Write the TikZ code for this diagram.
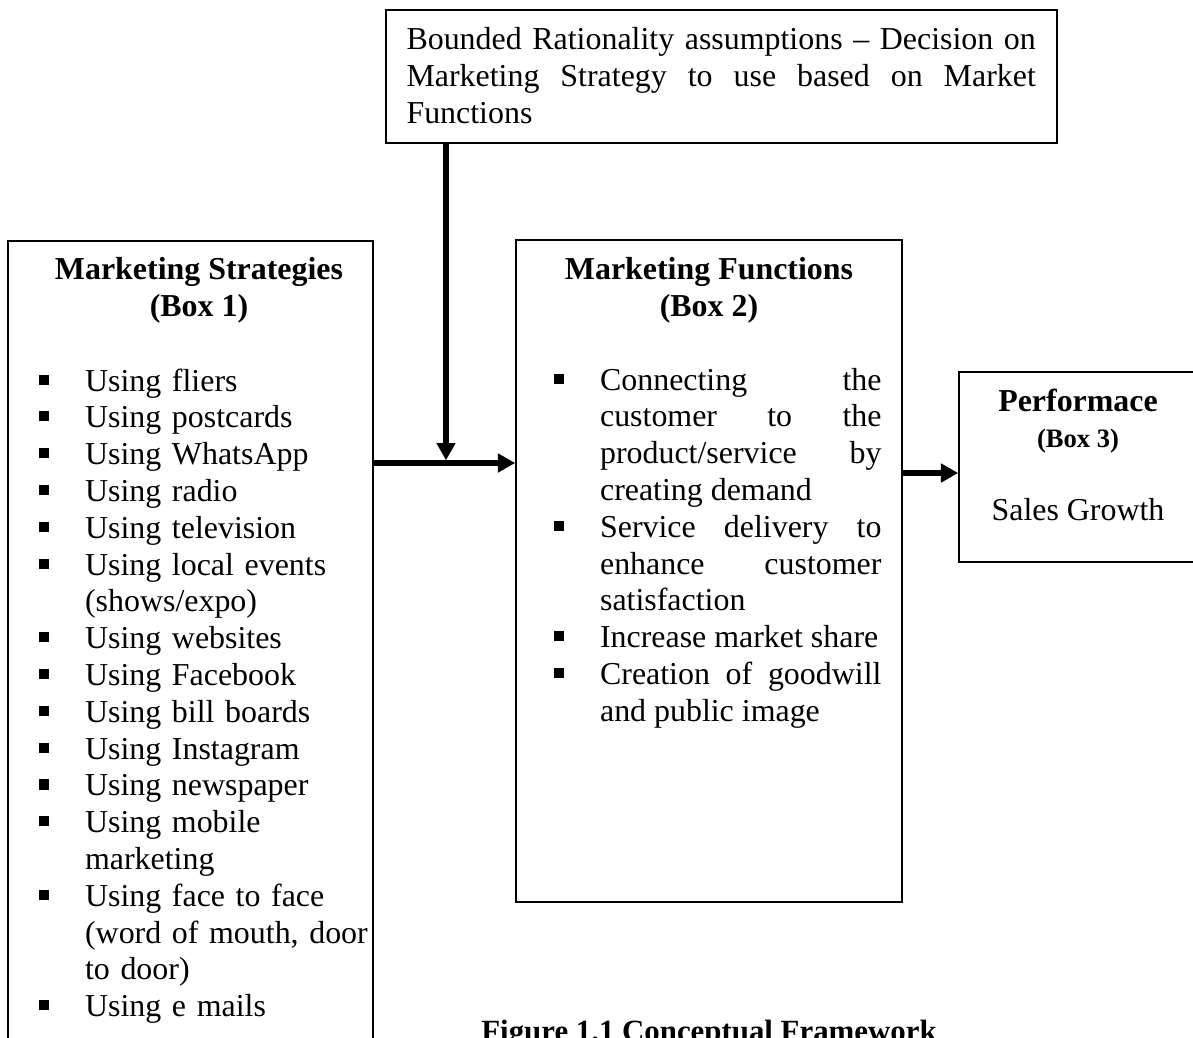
\documentclass[tikz,border=0pt]{standalone}
\usepackage{fontspec}
\setmainfont{Liberation Serif}
\usetikzlibrary{arrows.meta,fit}

\newlength{\bulind}\setlength{\bulind}{17.5pt}
\newcommand{\sqbul}{\raisebox{2.4pt}{\rule{3.8pt}{3.8pt}}}
\newcommand{\bitem}[1]{\noindent\hangindent=\bulind\hangafter=1\makebox[\bulind][l]{\sqbul}#1\par}

\begin{document}
\begin{tikzpicture}[x=0.01322cm,y=-0.01322cm,
  txt/.style={font=\fontsize{12}{13.84}\selectfont,inner sep=0pt},
  head/.style={font=\bfseries\fontsize{12}{13.84}\selectfont,inner sep=0pt},
  box/.style={draw,line width=0.6pt,inner sep=0pt},
  arr/.style={line width=2.2pt,-{Triangle[length=6.5pt,width=6.8pt]}}]
  \useasboundingbox (0,0) rectangle (1193,1037);
  \clip (0,0) rectangle (1193,1037);
  % frames
  \node[box,fit={(386,10) (1057,143)}] (bounded) {};
  \node[box,fit={(8,241) (373,1060)}] (strat) {};
  \node[box,fit={(516,240) (902,902)}] (func) {};
  \node[box,fit={(959,372) (1210,562)}] (perf) {};
  % ---- top box
  \node[txt,text width=236.6pt,align=justify,anchor=base west] (boundtxt) at (406,50)
    {Bounded Rationality assumptions – Decision on\linebreak Marketing Strategy to use based on Market\linebreak Functions};
  % ---- Box 1
  \node[head,anchor=base] (strathead) at (199,279) {Marketing Strategies};
  \node[head,anchor=base] (stratbox) at (199,316) {(Box 1)};
  \node[txt,text width=135pt,align=left,anchor=base west] (stratlist) at (38,391) {%
    \bitem{Using fliers}
    \bitem{Using postcards}
    \bitem{Using WhatsApp}
    \bitem{Using radio}
    \bitem{Using television}
    \bitem{Using local events\newline(shows/expo)}
    \bitem{Using websites}
    \bitem{Using Facebook}
    \bitem{Using bill boards}
    \bitem{Using Instagram}
    \bitem{Using newspaper}
    \bitem{Using mobile\newline marketing}
    \bitem{Using face to face\newline(word of mouth, door\newline to door)}
    \bitem{Using e mails}};
  % ---- Box 2
  \node[head,anchor=base] (funchead) at (709,279) {Marketing Functions};
  \node[head,anchor=base] (funcbox) at (709,316) {(Box 2)};
  \node[txt,text width=123.3pt,align=justify,anchor=base west] (funclist) at (553,390) {%
    \bitem{Connecting the\linebreak customer to the\linebreak product/service by\linebreak creating demand}
    \bitem{Service delivery to\linebreak enhance customer\linebreak satisfaction}
    \bitem{Increase market share}
    \bitem{Creation of goodwill\linebreak and public image}};
  % ---- Box 3
  \node[head,anchor=base] (perfhead) at (1078,411) {Performace};
  \node[head,font=\bfseries\fontsize{10}{12}\selectfont,anchor=base] (perfbox) at (1078,447) {(Box 3)};
  \node[txt,anchor=base] (perftxt) at (1078,520) {Sales Growth};
  % arrows
  \coordinate (meet) at (446,463);
  \coordinate (lvl3) at (0,473);
  \draw[arr] (bounded.south -| meet) -- ([yshift=1pt]meet);
  \draw[arr] (strat.east |- meet) -- (func.west |- meet);
  \draw[arr] (func.east |- lvl3) -- (perf.west |- lvl3);
  % caption
  \node[head,font=\bfseries\fontsize{11.6}{13.8}\selectfont,anchor=base] (caption) at (709,1041) {Figure 1.1 Conceptual Framework};
\end{tikzpicture}
\end{document}
